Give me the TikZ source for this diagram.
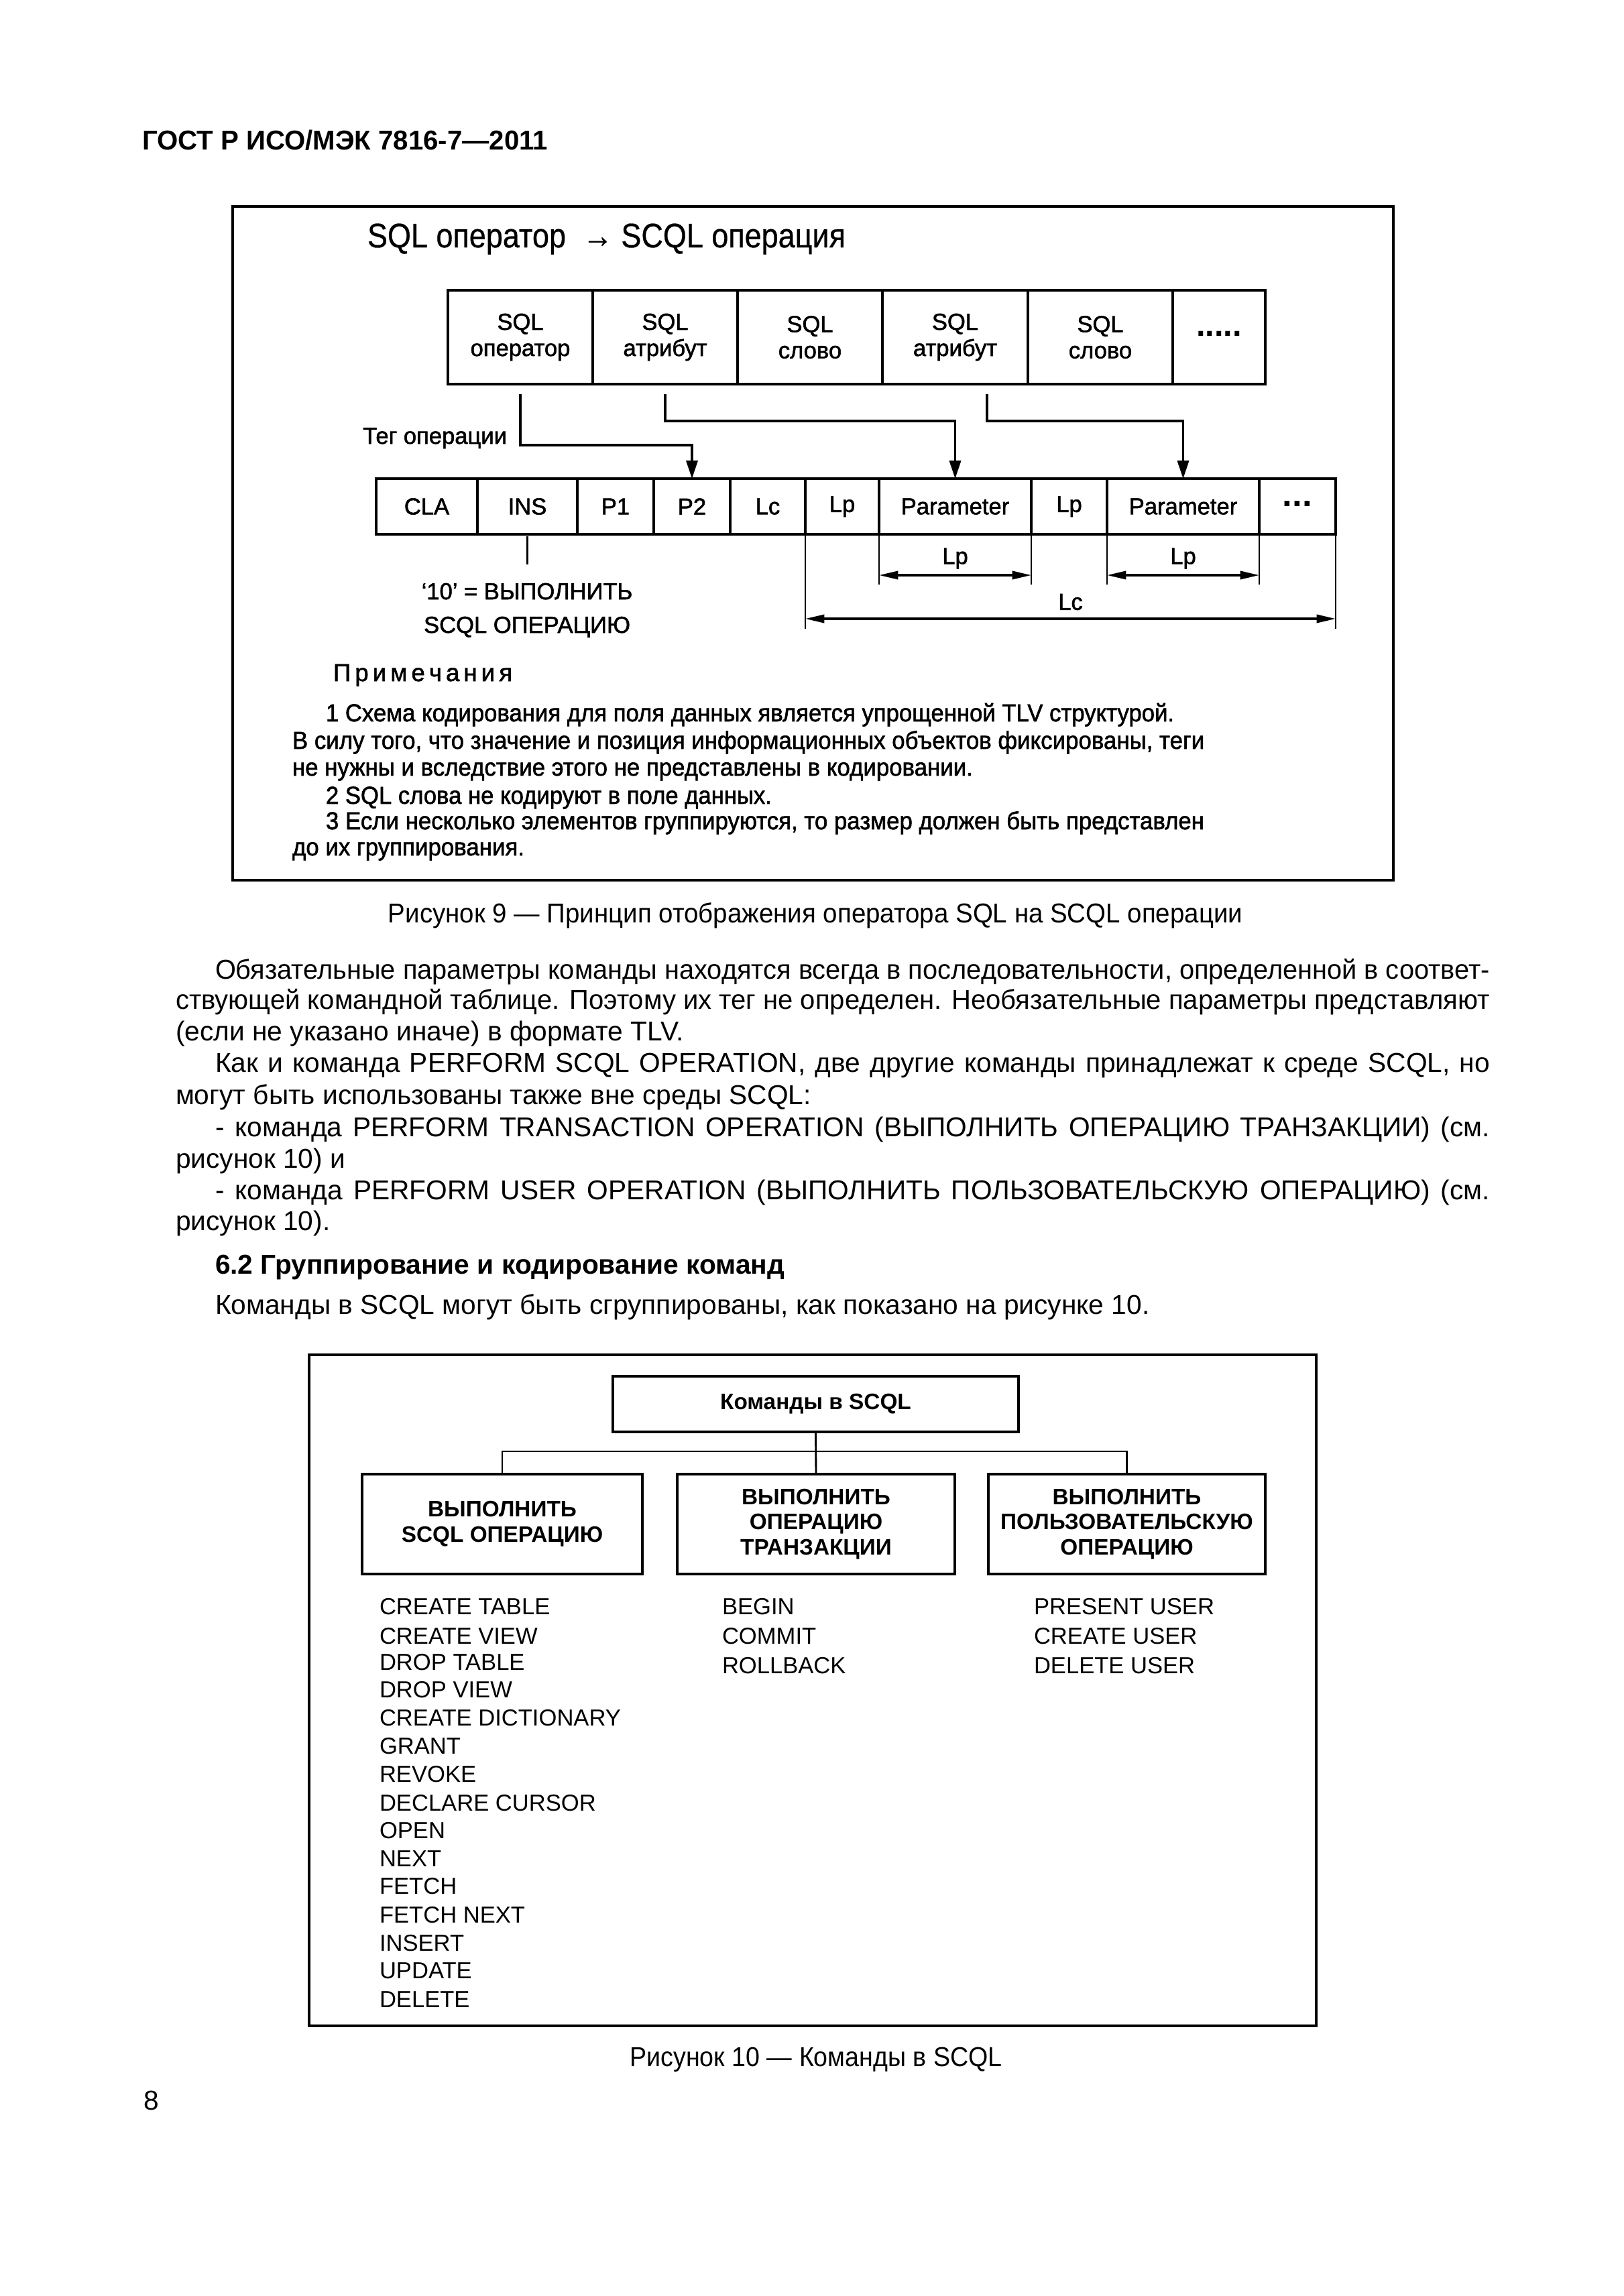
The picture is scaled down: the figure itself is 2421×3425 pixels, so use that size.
\documentclass[tikz,border=0pt]{standalone}
\usepackage{fontspec}
\usepackage{graphicx}
\setmainfont{Liberation Sans}
\newfontfamily\figfont[FakeBold=1.6]{Liberation Sans}
\newfontfamily\titfont[FakeBold=0.6]{Liberation Sans}
\usetikzlibrary{arrows.meta,calc}
\def\PX{0.24576pt}
\newdimen\pxu \pxu=0.24576pt
\newsavebox\fitbox
\newcommand\jline[2]{\sbox\fitbox{#2}\ifdim\wd\fitbox>#1\pxu\relax\resizebox{#1\pxu}{\height}{\usebox\fitbox}\else\makebox[#1\pxu][s]{#2}\fi}
\newcommand\sline[2]{\resizebox{#1\pxu}{\height}{#2}}
\begin{document}
\begin{tikzpicture}[x=0.24576pt,y=-0.24576pt,
  every node/.style={inner sep=0pt, outer sep=0pt},
  frame/.style={line width=1pt},
  cellA/.style={draw, line width=0.8pt, align=center, minimum height=140*\PX, font=\figfont\fontsize{8.5}{9.6}\selectfont},
  cellB/.style={draw, line width=0.8pt, align=center, minimum height=83*\PX, font=\figfont\fontsize{8.5}{10}\selectfont},
  figtxt/.style={font=\figfont\fontsize{8.5}{10}\selectfont},
  body/.style={anchor=base west, font=\fontsize{10}{11.5}\selectfont},
  note/.style={anchor=base west, font=\figfont\fontsize{9}{10}\selectfont},
  cmd/.style={anchor=base west, font=\fontsize{8.5}{10}\selectfont},
  grp/.style={draw, line width=0.8pt, align=center, font=\bfseries\fontsize{8.2}{9.3}\selectfont},
  conn/.style={line width=0.8pt, -{Triangle[length=6.6pt,width=4.2pt]}},
  dim/.style={line width=0.8pt, {Triangle[length=7pt,width=3pt]}-{Triangle[length=7pt,width=3pt]}},
  ext/.style={line width=0.6pt},
  tree/.style={line width=0.7pt}]
\fill[white] (0,0) rectangle (2421,3425);
\useasboundingbox (0,0) rectangle (2421,3425);

% header
\node[anchor=base west, font=\bfseries\fontsize{10}{11.5}\selectfont] (hdr) at (212,223) {\jline{605}{ГОСТ Р ИСО/МЭК 7816-7—2011}};

% ===== Figure 9 =====
\draw[frame] (347,308) rectangle (2078,1313);
\node[anchor=base west, font=\titfont\fontsize{12.5}{14}\selectfont] (title) at (548,369) {\sline{713}{SQL оператор\ \ → SCQL операция}};

\node[cellA, minimum width=216*\PX] (s1) at (776,503) {SQL\\оператор};
\node[cellA, minimum width=216*\PX] (s2) at (992,503) {SQL\\атрибут};
\node[cellA, minimum width=216*\PX] (s3) at (1208,503) {SQL\\слово};
\node[cellA, minimum width=217*\PX] (s4) at (1424.5,503) {SQL\\атрибут};
\node[cellA, minimum width=216*\PX] (s5) at (1641,503) {SQL\\слово};
\node[cellA, minimum width=138*\PX] (s6) at (1818,503) {};
\node[font=\bfseries\fontsize{12}{12}\selectfont] (s6t) at (1818,498) {.....};

\node[cellB, minimum width=151*\PX] (cla) at (636.5,755.5) {CLA};
\node[cellB, minimum width=149*\PX] (ins) at (786.5,755.5) {INS};
\node[cellB, minimum width=114*\PX] (p1) at (918,755.5) {P1};
\node[cellB, minimum width=114*\PX] (p2) at (1032,755.5) {P2};
\node[cellB, minimum width=112*\PX] (lc) at (1145,755.5) {Lc};
\node[cellB, minimum width=110*\PX] (lp1) at (1256,755.5) {Lp};
\node[cellB, minimum width=227*\PX] (par1) at (1424.5,755.5) {Parameter};
\node[cellB, minimum width=113*\PX] (lp2) at (1594.5,755.5) {Lp};
\node[cellB, minimum width=227*\PX] (par2) at (1764.5,755.5) {Parameter};
\node[cellB, minimum width=114*\PX] (dots) at (1935,755.5) {};
\node[font=\bfseries\fontsize{13}{13}\selectfont] (dotst) at (1935,752) {...};

\node[figtxt, anchor=base east] (tag) at (756,662) {Тег операции};

\coordinate (h1) at (0,664);
\coordinate (h2) at (0,628);
\coordinate (s4o) at ([xshift=47.5*\PX,yshift=-15*\PX]s4.south);
\draw[conn] ([yshift=-15*\PX]s1.south) -- (s1.south |- h1) -| (p2.north);
\draw[conn] ([yshift=-15*\PX]s2.south) -- (s2.south |- h2) -| (par1.north);
\draw[conn] (s4o) -- (s4o |- h2) -| (par2.north);

% INS explanation
\coordinate (insend) at (786.5,842);
\draw[ext] ([yshift=-3*\PX]ins.south) -- (insend);
\node[figtxt, anchor=base] (t10a) at (786,894) {‘10’ = ВЫПОЛНИТЬ};
\node[figtxt, anchor=base] (t10b) at (786,944) {SCQL ОПЕРАЦИЮ};

% dimension lines
\coordinate (e1) at (0,872);
\coordinate (e2) at (0,938);
\coordinate (a1) at (0,858);
\coordinate (a2) at (0,923);
\draw[ext] (lp1.south west) -- (lp1.south west |- e2);
\draw[ext] (par1.south west) -- (par1.south west |- e1);
\draw[ext] (par1.south east) -- (par1.south east |- e1);
\draw[ext] (par2.south west) -- (par2.south west |- e1);
\draw[ext] (par2.south east) -- (par2.south east |- e1);
\draw[ext] (dots.south east) -- (dots.south east |- e2);
\draw[dim] (par1.south west |- a1) -- node[figtxt, midway, yshift=25*\PX] (lpl1) {Lp} (par1.south east |- a1);
\draw[dim] (par2.south west |- a1) -- node[figtxt, midway, yshift=25*\PX] (lpl2) {Lp} (par2.south east |- a1);
\draw[dim] (lp1.south west |- a2) -- node[figtxt, midway, yshift=25*\PX] (lcl) {Lc} (dots.south east |- a2);

% notes
\node[note] (nt0) at (497,1016) {\sline{267}{П\,р\,и\,м\,е\,ч\,а\,н\,и\,я}};
\node[note] (nt1) at (486,1076) {\sline{1265}{1 Схема кодирования для поля данных является упрощенной TLV структурой.}};
\node[note] (nt2) at (436,1117) {\sline{1360}{В силу того, что значение и позиция информационных объектов фиксированы, теги}};
\node[note] (nt3) at (436,1157) {\sline{1015}{не нужны и вследствие этого не представлены в кодировании.}};
\node[note] (nt4) at (486,1199) {\sline{665}{2 SQL слова не кодируют в поле данных.}};
\node[note] (nt5) at (486,1237) {\sline{1310}{3 Если несколько элементов группируются, то размер должен быть представлен}};
\node[note] (nt6) at (436,1276) {\sline{346}{до их группирования.}};

% caption 9
\node[anchor=base, font=\fontsize{10}{11.5}\selectfont] (cap9) at (1216,1376) {\jline{1274}{Рисунок 9 — Принцип отображения оператора SQL на SCQL операции}};

% body text
\node[body] (b1) at (321,1460) {\jline{1901}{Обязательные параметры команды находятся всегда в последовательности, определенной в соответ-}};
\node[body] (b2) at (262,1505) {\jline{1960}{ствующей командной таблице. Поэтому их тег не определен. Необязательные параметры представляют}};
\node[body] (b3) at (262,1552) {(если не указано иначе) в формате TLV.};
\node[body] (b4) at (321,1599) {\jline{1901}{Как и команда PERFORM SCQL OPERATION, две другие команды принадлежат к среде SCQL, но}};
\node[body] (b5) at (262,1647) {могут быть использованы также вне среды SCQL:};
\node[body] (b6) at (321,1695) {\jline{1901}{- команда PERFORM TRANSACTION OPERATION (ВЫПОЛНИТЬ ОПЕРАЦИЮ ТРАНЗАКЦИИ) (см.}};
\node[body] (b7) at (262,1742) {рисунок 10) и};
\node[body] (b8) at (321,1789) {\jline{1901}{- команда PERFORM USER OPERATION (ВЫПОЛНИТЬ ПОЛЬЗОВАТЕЛЬСКУЮ ОПЕРАЦИЮ) (см.}};
\node[body] (b9) at (262,1835) {рисунок 10).};
\node[body, font=\bfseries\fontsize{10}{11.5}\selectfont] (sec) at (321,1900) {6.2 Группирование и кодирование команд};
\node[body] (b10) at (321,1960) {Команды в SCQL могут быть сгруппированы, как показано на рисунке 10.};

% ===== Figure 10 =====
\draw[frame] (461,2021) rectangle (1963,3022);
\node[grp, minimum width=605*\PX, minimum height=83*\PX] (root) at (1216.5,2094.5) {Команды в SCQL};
\node[grp, minimum width=418*\PX, minimum height=149*\PX] (g1) at (749,2273.5) {ВЫПОЛНИТЬ\\SCQL ОПЕРАЦИЮ};
\node[grp, minimum width=414*\PX, minimum height=149*\PX] (g2) at (1217,2273.5) {ВЫПОЛНИТЬ\\ОПЕРАЦИЮ\\ТРАНЗАКЦИИ};
\node[grp, minimum width=413*\PX, minimum height=149*\PX] (g3) at (1680.5,2273.5) {ВЫПОЛНИТЬ\\ПОЛЬЗОВАТЕЛЬСКУЮ\\ОПЕРАЦИЮ};
\coordinate (bar) at (0,2165);
\draw[tree] (root.south) -- (g2.north);
\draw[tree] (g1.north) -- (g1.north |- bar) -- (g3.north |- bar) -- (g3.north);

\node[cmd] (c1) at (566,2408) {CREATE TABLE};
\node[cmd] (c2) at (566,2452) {CREATE VIEW};
\node[cmd] (c3) at (566,2491) {DROP TABLE};
\node[cmd] (c4) at (566,2532) {DROP VIEW};
\node[cmd] (c5) at (566,2574) {CREATE DICTIONARY};
\node[cmd] (c6) at (566,2616) {GRANT};
\node[cmd] (c7) at (566,2658) {REVOKE};
\node[cmd] (c8) at (566,2701) {DECLARE CURSOR};
\node[cmd] (c9) at (566,2742) {OPEN};
\node[cmd] (c10) at (566,2784) {NEXT};
\node[cmd] (c11) at (566,2825) {FETCH};
\node[cmd] (c12) at (566,2868) {FETCH NEXT};
\node[cmd] (c13) at (566,2910) {INSERT};
\node[cmd] (c14) at (566,2951) {UPDATE};
\node[cmd] (c15) at (566,2994) {DELETE};
\node[cmd] (t1) at (1077,2408) {BEGIN};
\node[cmd] (t2) at (1077,2452) {COMMIT};
\node[cmd] (t3) at (1077,2496) {ROLLBACK};
\node[cmd] (u1) at (1542,2408) {PRESENT USER};
\node[cmd] (u2) at (1542,2452) {CREATE USER};
\node[cmd] (u3) at (1542,2496) {DELETE USER};

\node[anchor=base, font=\fontsize{10}{11.5}\selectfont] (cap10) at (1217,3082) {\jline{555}{Рисунок 10 — Команды в SCQL}};
\node[anchor=base west, font=\fontsize{10}{11.5}\selectfont] (pg) at (214,3147) {8};
\end{tikzpicture}
\end{document}
